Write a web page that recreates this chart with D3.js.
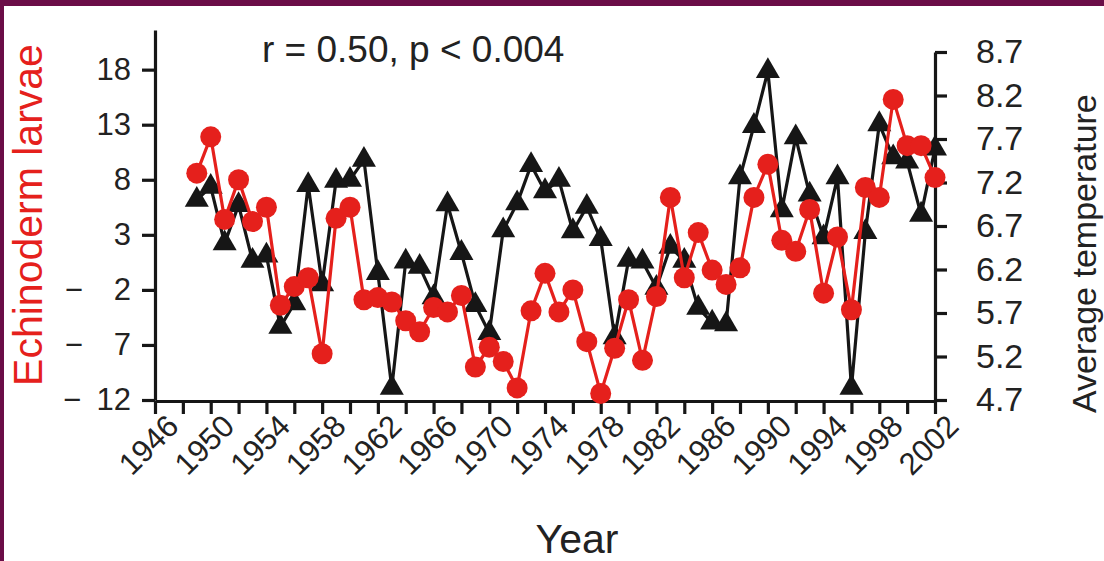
<!DOCTYPE html>
<html>
<head>
<meta charset="utf-8">
<script src="https://cdn.jsdelivr.net/npm/d3@7"></script>
<style>
  body { margin: 0; background: #fff; }
  svg { display: block; }
  text { font-family: "Liberation Sans", Arial, sans-serif; }
</style>
</head>
<body>
<div id="chart"></div>
<script>

var years = [1949, 1950, 1951, 1952, 1953, 1954, 1955, 1956, 1957, 1958,
             1959, 1960, 1961, 1962, 1963, 1964, 1965, 1966, 1967, 1968,
             1969, 1970, 1971, 1972, 1973, 1974, 1975, 1976, 1977, 1978,
             1979, 1980, 1981, 1982, 1983, 1984, 1985, 1986, 1987, 1988,
             1989, 1990, 1991, 1992, 1993, 1994, 1995, 1996, 1997, 1998,
             1999, 2000, 2001, 2002];

// echinoderm larvae (left axis, red circles)
var larvae = [8.6, 11.9, 4.4, 8.0, 4.2, 5.5, -3.4, -1.7, -0.9, -7.8,
              4.5, 5.5, -2.9, -2.7, -3.1, -4.8, -5.8, -3.6, -4.0, -2.5,
              -9.0, -7.2, -8.5, -10.9, -3.9, -0.5, -4.0, -2.0, -6.7, -11.4,
              -7.3, -2.9, -8.4, -2.6, 6.4, -0.9, 3.2, -0.2, -1.5, 0.0,
              6.4, 9.4, 2.5, 1.5, 5.3, -2.3, 2.8, -3.8, 7.3, 6.4,
              15.3, 11.1, 11.1, 8.2];

// average temperature (right axis, black triangles)
var temperature = [7.00, 7.15, 6.50, 6.94, 6.30, 6.36, 5.54, 5.81, 7.17, 6.03,
                   7.22, 7.23, 7.46, 6.16, 4.84, 6.29, 6.23, 5.88, 6.95, 6.39,
                   5.79, 5.47, 6.65, 6.96, 7.40, 7.10, 7.23, 6.64, 6.92, 6.55,
                   5.42, 6.31, 6.29, 5.99, 6.46, 6.30, 5.76, 5.59, 5.57, 7.26,
                   7.85, 8.48, 6.88, 7.72, 7.06, 6.57, 7.26, 4.84, 6.63, 7.87,
                   7.49, 7.44, 6.83, 7.59];

var larvaeTicks = [-12, -7, -2, 3, 8, 13, 18];
var tempTicks = [4.7, 5.2, 5.7, 6.2, 6.7, 7.2, 7.7, 8.2, 8.7];
var yearLabels = [1946, 1950, 1954, 1958, 1962, 1966, 1970, 1974, 1978, 1982, 1986, 1990, 1994, 1998, 2002];

var red = "#e5201c";
var ink = "#161616";

var svg = d3.select("#chart")
            .append("svg")
            .attr("width", 1104)
            .attr("height", 561)

// purple frame of the original figure
svg.append("rect").attr("x", 0).attr("y", 0).attr("width", 1104).attr("height", 6).style("fill", "#6b0d47")
svg.append("rect").attr("x", 0).attr("y", 0).attr("width", 4).attr("height", 561).style("fill", "#6b0d47")

var x = d3.scaleLinear().domain([1946, 2002]).range([155, 935])
var yLeft = d3.scaleLinear().domain([-12, 21.6]).range([400, 30])
var yRight = d3.scaleLinear().domain([4.7, 8.7]).range([400, 52])

// minus sign kept in its own column, like the original
var fmtLeft = function(d) {
    if (d < 0) return "\u2212\u2002" + (Math.abs(d) < 10 ? "\u2002" : "") + Math.abs(d);
    return d;
}

// x axis
var gx = svg.append("g")
    .attr("transform", "translate(0,401)")
    .call(d3.axisBottom(x)
        .tickValues(d3.range(1946, 2003, 2))
        .tickSize(13)
        .tickSizeOuter(0)
        .tickFormat(function(d) { return yearLabels.indexOf(d) >= 0 ? d : ""; }))

gx.selectAll("text")
    .attr("y", 0).attr("dy", 0)
    .attr("transform", "translate(25,27) rotate(-45)")
    .style("text-anchor", "end")

// left axis
var gl = svg.append("g")
    .attr("transform", "translate(155,0)")
    .call(d3.axisLeft(yLeft)
        .tickValues(larvaeTicks)
        .tickSize(13)
        .tickSizeOuter(0)
        .tickPadding(11)
        .tickFormat(fmtLeft))

// right axis
var gr = svg.append("g")
    .attr("transform", "translate(935,0)")
    .call(d3.axisRight(yRight)
        .tickValues(tempTicks)
        .tickSize(12)
        .tickSizeOuter(0)
        .tickPadding(29)
        .tickFormat(d3.format(".1f")))

svg.selectAll(".domain, .tick line")
    .style("stroke", ink)
    .style("stroke-width", 3.2)

svg.selectAll(".tick text")
    .style("font-size", "31px")
    .style("fill", "#222")

gr.selectAll(".tick text").style("font-size", "34px")

// temperature series
svg.append("path")
    .datum(temperature)
    .attr("d", d3.line()
        .x(function(d, i) { return x(years[i]); })
        .y(function(d) { return yRight(d); }))
    .style("fill", "none")
    .style("stroke", ink)
    .style("stroke-width", 3.2)
    .style("stroke-linejoin", "round")

svg.append("g")
    .selectAll("path")
    .data(temperature)
    .enter()
    .append("path")
    .attr("d", d3.symbol().type(d3.symbolTriangle).size(250))
    .attr("transform", function(d, i) { return "translate(" + x(years[i]) + "," + yRight(d) + ")"; })
    .style("fill", ink)

// larvae series
svg.append("path")
    .datum(larvae)
    .attr("d", d3.line()
        .x(function(d, i) { return x(years[i]); })
        .y(function(d) { return yLeft(d); }))
    .style("fill", "none")
    .style("stroke", red)
    .style("stroke-width", 3.2)
    .style("stroke-linejoin", "round")

svg.append("g")
    .selectAll("circle")
    .data(larvae)
    .enter()
    .append("circle")
    .attr("cx", function(d, i) { return x(years[i]); })
    .attr("cy", function(d) { return yLeft(d); })
    .attr("r", 10.5)
    .style("fill", red)

// titles
svg.append("text")
    .attr("x", 262).attr("y", 62)
    .style("font-size", "37px")
    .style("fill", "#222")
    .text("r = 0.50, p < 0.004")

svg.append("text")
    .attr("x", 577).attr("y", 553)
    .style("text-anchor", "middle")
    .style("font-size", "41px")
    .style("fill", "#222")
    .text("Year")

svg.append("text")
    .attr("transform", "translate(42,215) rotate(-90)")
    .style("text-anchor", "middle")
    .style("font-size", "41px")
    .style("fill", red)
    .text("Echinoderm larvae")

svg.append("text")
    .attr("transform", "translate(1096,413) rotate(-90)")
    .style("text-anchor", "start")
    .style("font-size", "34px")
    .style("fill", "#222")
    .text("Average temperature")

</script>
</body>
</html>
